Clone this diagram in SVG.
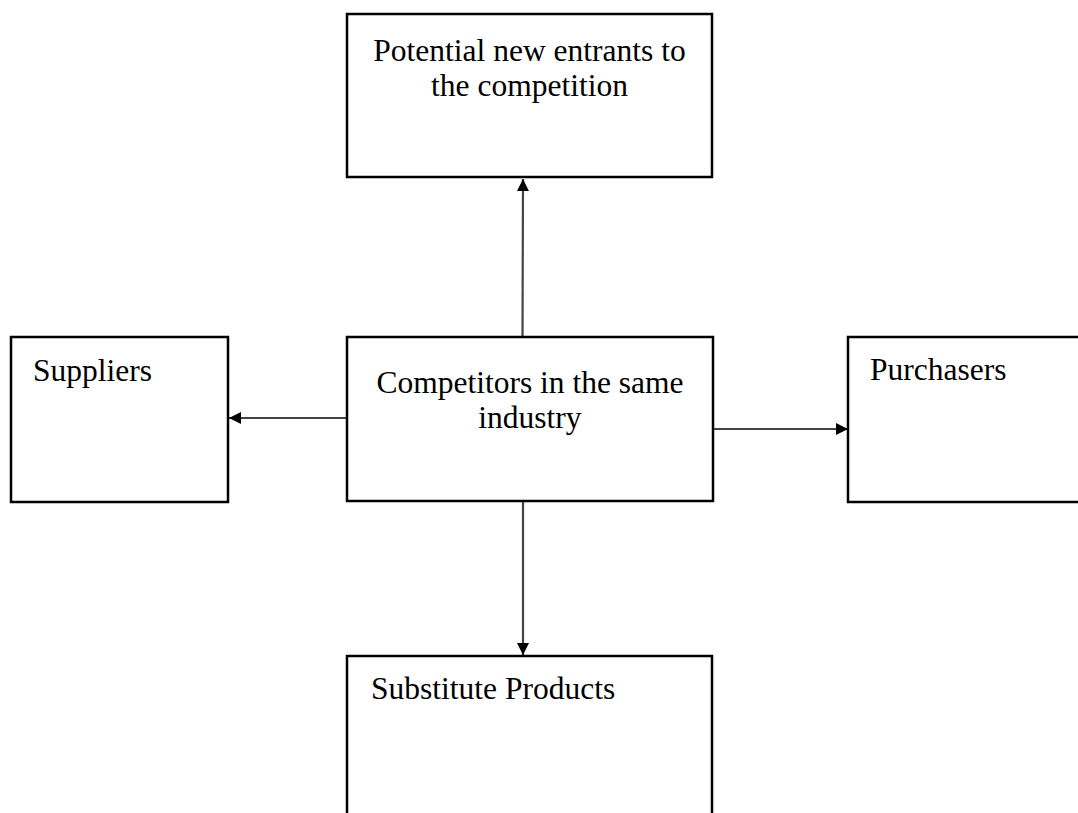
<svg xmlns="http://www.w3.org/2000/svg" width="1078" height="813" viewBox="0 0 1078 813">
<defs>
<style>
.box{fill:#fff;stroke:#000;stroke-width:2.5}
.lbl{font-family:"Liberation Serif","Times New Roman",serif;font-size:31.5px;fill:#000}
.mid{text-anchor:middle}
.con{stroke:#444;stroke-width:2.2;fill:none;marker-end:url(#ah)}
</style>
<marker id="ah" viewBox="0 0 10 10" refX="10" refY="5" markerWidth="12" markerHeight="12" markerUnits="userSpaceOnUse" orient="auto">
<path d="M0,0 L10,5 L0,10 Z" fill="#000"/>
</marker>
</defs>
<rect width="1078" height="813" fill="#fff"/>
<g id="connectors">
<line class="con" x1="522.5" y1="337" x2="523" y2="179"/>
<line class="con" x1="347" y1="418" x2="229" y2="418"/>
<line class="con" x1="713" y1="429" x2="848" y2="429"/>
<line class="con" x1="523" y1="501" x2="523" y2="655"/>
</g>
<g id="node-entrants">
<rect class="box" x="347" y="14" width="365" height="163"/>
<text class="lbl mid" x="529.5" y="61">Potential new entrants to</text>
<text class="lbl mid" x="529.5" y="96">the competition</text>
</g>
<g id="node-suppliers">
<rect class="box" x="11" y="337" width="217" height="165"/>
<text class="lbl" x="33" y="381">Suppliers</text>
</g>
<g id="node-competitors">
<rect class="box" x="347" y="337" width="366" height="164"/>
<text class="lbl mid" x="530" y="393">Competitors in the same</text>
<text class="lbl mid" x="530" y="428">industry</text>
</g>
<g id="node-purchasers">
<path class="box" d="M1080,337 H848 V502 H1080"/>
<text class="lbl" x="870" y="380">Purchasers</text>
</g>
<g id="node-substitutes">
<path class="box" d="M347,815 V656 H712 V815"/>
<text class="lbl" x="371" y="699">Substitute Products</text>
</g>
</svg>
